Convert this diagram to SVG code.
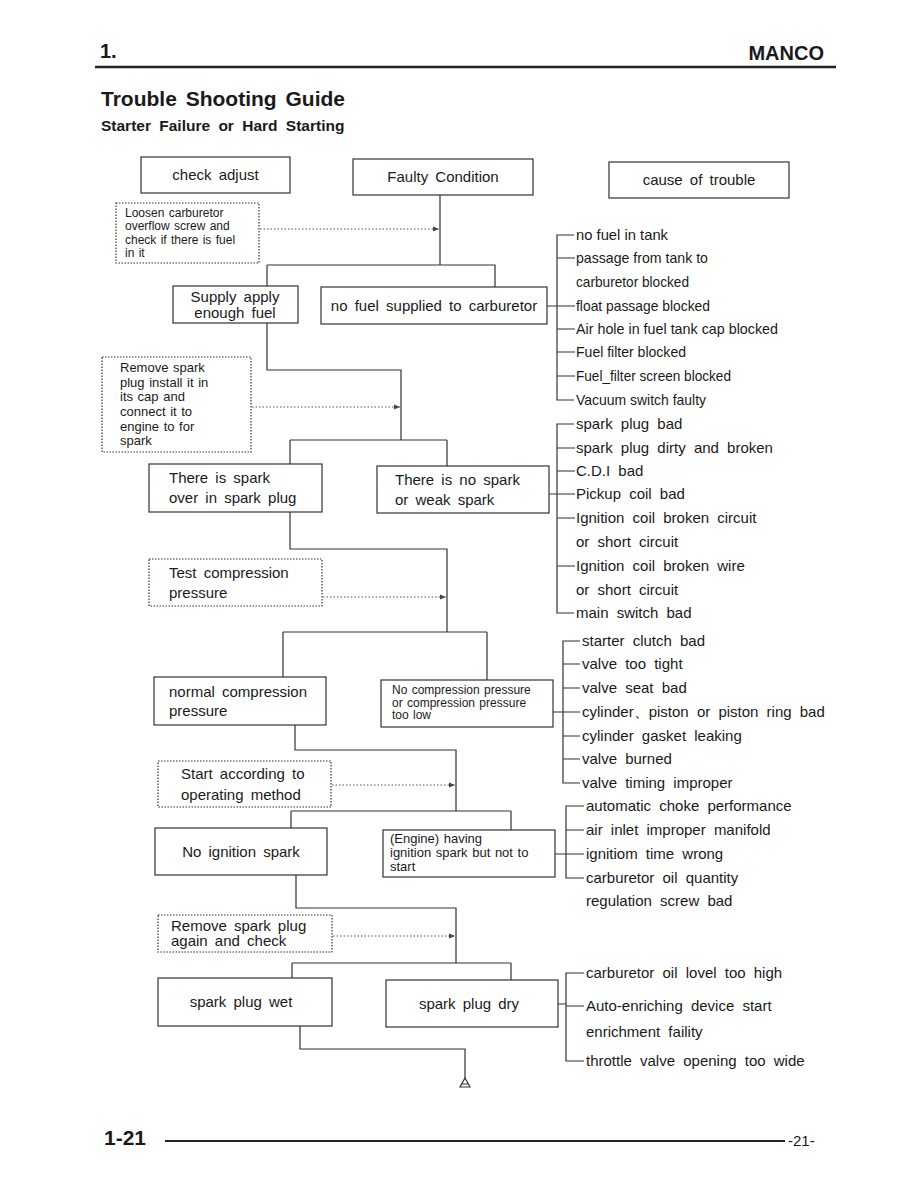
<svg xmlns="http://www.w3.org/2000/svg" width="918" height="1188" viewBox="0 0 918 1188">
<defs>
<style>
text{font-family:"Liberation Sans",Arial,sans-serif;fill:#1a1a1a}
.box{fill:#fff;stroke:#333;stroke-width:1.2}
.dbox{fill:#fff;stroke:#333;stroke-width:1.2;stroke-dasharray:1.5 1.5}
.ln{fill:none;stroke:#333;stroke-width:1.2}
.dl{fill:none;stroke:#555;stroke-width:1;stroke-dasharray:1.5 2}
.t15{font-size:15px;word-spacing:3px}
.t13{font-size:13px;word-spacing:1px}
.t12{font-size:12px;word-spacing:1px}
.c1{font-size:14.5px}
.c2{font-size:15px;word-spacing:4px}
</style>
<marker id="ar" markerWidth="8" markerHeight="8" refX="7" refY="4" orient="auto" markerUnits="userSpaceOnUse">
<path d="M1,1.5 L7,4 L1,6.5 Z" fill="#444"/>
</marker>
</defs>
<rect width="918" height="1188" fill="#fff"/>

<g id="header">
<text x="100" y="58" font-size="20" font-weight="bold">1.</text>
<text x="824" y="60" font-size="20" font-weight="bold" text-anchor="end">MANCO</text>
<line x1="95" y1="67" x2="836" y2="67" stroke="#222" stroke-width="2.5"/>
<text x="101" y="106" font-size="21" font-weight="bold" word-spacing="3">Trouble Shooting Guide</text>
<text x="101" y="131" font-size="15.5" font-weight="bold" word-spacing="4">Starter Failure or Hard Starting</text>
</g>

<g id="connectors">
<path class="ln" d="M440 195 V265 M267 265 H495 V287 M267 265 V370 H401 V440 M290 440 H447 M290 440 V464 M447 440 V466"/>
<path class="ln" d="M290 512 V549 H447 V632 M283 632 H487 M283 632 V677 M487 632 V680"/>
<path class="ln" d="M295 725 V750 H456 V811 M291 811 H511 M291 811 V828 M511 811 V830"/>
<path class="ln" d="M296 875 V908 H456 V963 M292 963 H511 M292 963 V978 M511 963 V980"/>
<path class="ln" d="M300 1026 V1049 H465 V1079"/>
<path d="M465 1078 L470 1087 L460 1087 Z M462 1084 H468" fill="none" stroke="#333" stroke-width="1.2"/>
<path class="dl" d="M260 229 H439" marker-end="url(#ar)"/>
<path class="dl" d="M252 407 H400" marker-end="url(#ar)"/>
<path class="dl" d="M323 597 H446" marker-end="url(#ar)"/>
<path class="dl" d="M332 785 H455" marker-end="url(#ar)"/>
<path class="dl" d="M333 936 H455" marker-end="url(#ar)"/>
<path class="ln" d="M547 306 H575 M574 235 H557 V400 H574 M557 258 H575 M557 329 H575 M557 352 H575 M557 376 H575"/>
<path class="ln" d="M549 494 H575 M574 424 H557 V613 H574 M557 448 H575 M557 471 H575 M557 518 H575 M557 566 H575"/>
<path class="ln" d="M553 712 H580 M580 641 H563 V783 H580 M563 664 H580 M563 688 H580 M563 736 H580 M563 759 H580"/>
<path class="ln" d="M555 854 H584 M584 806 H566 V878 H584 M566 830 H584"/>
<path class="ln" d="M558 1004 H566 M584 973 H566 V1061 H584 M566 1006 H584"/>
</g>

<g id="n-check-adjust">
<rect class="box" x="141" y="157" width="149" height="36"/>
<text class="t15" x="215.5" y="180" text-anchor="middle">check adjust</text>
</g>
<g id="n-faulty">
<rect class="box" x="353" y="159" width="180" height="36"/>
<text class="t15" x="443" y="182" text-anchor="middle">Faulty Condition</text>
</g>
<g id="n-cause">
<rect class="box" x="609" y="162" width="180" height="36"/>
<text class="t15" x="699" y="185" text-anchor="middle">cause of trouble</text>
</g>

<g id="n-loosen">
<rect class="dbox" x="116" y="203" width="143" height="60"/>
<text class="t12" x="125" y="217">Loosen carburetor</text>
<text class="t12" x="125" y="230">overflow screw and</text>
<text class="t12" x="125" y="244">check if there is fuel</text>
<text class="t12" x="125" y="257">in it</text>
</g>

<g id="n-supply">
<rect class="box" x="173" y="286" width="125" height="37"/>
<text class="t15" x="235" y="302" text-anchor="middle">Supply apply</text>
<text class="t15" x="235" y="318" text-anchor="middle">enough fuel</text>
</g>
<g id="n-nofuel">
<rect class="box" x="321" y="287" width="226" height="37"/>
<text class="t15" x="434" y="311" text-anchor="middle">no fuel supplied to carburetor</text>
</g>

<g id="n-remove-spark">
<rect class="dbox" x="102" y="357" width="149" height="95"/>
<text class="t13" x="120" y="372">Remove spark</text>
<text class="t13" x="120" y="387">plug install it in</text>
<text class="t13" x="120" y="401">its cap and</text>
<text class="t13" x="120" y="416">connect it to</text>
<text class="t13" x="120" y="431">engine to for</text>
<text class="t13" x="120" y="445">spark</text>
</g>

<g id="n-spark-yes">
<rect class="box" x="149" y="464" width="173" height="48"/>
<text class="t15" x="169" y="483">There is spark</text>
<text class="t15" x="169" y="503">over in spark plug</text>
</g>
<g id="n-spark-no">
<rect class="box" x="377" y="466" width="172" height="47"/>
<text class="t15" x="395" y="485">There is no spark</text>
<text class="t15" x="395" y="505">or weak spark</text>
</g>

<g id="n-test-comp">
<rect class="dbox" x="149" y="559" width="173" height="47"/>
<text class="t15" x="169" y="578">Test compression</text>
<text class="t15" x="169" y="598">pressure</text>
</g>

<g id="n-normal-comp">
<rect class="box" x="154" y="677" width="172" height="48"/>
<text class="t15" x="169" y="697">normal compression</text>
<text class="t15" x="169" y="716">pressure</text>
</g>
<g id="n-no-comp">
<rect class="box" x="381" y="680" width="172" height="47"/>
<text class="t12" x="392" y="694">No compression pressure</text>
<text class="t12" x="392" y="707">or compression pressure</text>
<text class="t12" x="392" y="719">too low</text>
</g>

<g id="n-start">
<rect class="dbox" x="158" y="761" width="173" height="46"/>
<text class="t15" x="181" y="779">Start according to</text>
<text class="t15" x="181" y="800">operating method</text>
</g>

<g id="n-no-ign">
<rect class="box" x="155" y="828" width="172" height="47"/>
<text class="t15" x="241" y="857" text-anchor="middle">No ignition spark</text>
</g>
<g id="n-engine">
<rect class="box" x="383" y="830" width="172" height="47"/>
<text class="t13" x="390" y="843">(Engine) having</text>
<text class="t13" x="390" y="857">ignition spark but not to</text>
<text class="t13" x="390" y="871">start</text>
</g>

<g id="n-remove-again">
<rect class="dbox" x="158" y="915" width="174" height="37"/>
<text class="t15" x="171" y="931" word-spacing="7">Remove spark plug</text>
<text class="t15" x="171" y="946">again and check</text>
</g>

<g id="n-wet">
<rect class="box" x="158" y="978" width="174" height="48"/>
<text class="t15" x="241" y="1007" text-anchor="middle">spark plug wet</text>
</g>
<g id="n-dry">
<rect class="box" x="386" y="980" width="172" height="47"/>
<text class="t15" x="469" y="1009" text-anchor="middle">spark plug dry</text>
</g>

<g id="causes-fuel">
<text class="c1" x="576" y="240" textLength="92" lengthAdjust="spacingAndGlyphs">no fuel in tank</text>
<text class="c1" x="576" y="263" textLength="132" lengthAdjust="spacingAndGlyphs">passage from tank to</text>
<text class="c1" x="576" y="287" textLength="113" lengthAdjust="spacingAndGlyphs">carburetor blocked</text>
<text class="c1" x="576" y="311" textLength="134" lengthAdjust="spacingAndGlyphs">float passage blocked</text>
<text class="c1" x="576" y="334" textLength="202" lengthAdjust="spacingAndGlyphs">Air hole in fuel tank cap blocked</text>
<text class="c1" x="576" y="357" textLength="110" lengthAdjust="spacingAndGlyphs">Fuel filter blocked</text>
<text class="c1" x="576" y="381" textLength="155" lengthAdjust="spacingAndGlyphs">Fuel_filter screen blocked</text>
<text class="c1" x="576" y="405" textLength="130" lengthAdjust="spacingAndGlyphs">Vacuum switch faulty</text>
</g>

<g id="causes-spark">
<text class="c2" x="576" y="429">spark plug bad</text>
<text class="c2" x="576" y="453">spark plug dirty and broken</text>
<text class="c2" x="576" y="476">C.D.I bad</text>
<text class="c2" x="576" y="499">Pickup coil bad</text>
<text class="c2" x="576" y="523">Ignition coil broken circuit</text>
<text class="c2" x="576" y="547">or short circuit</text>
<text class="c2" x="576" y="571">Ignition coil broken wire</text>
<text class="c2" x="576" y="595">or short circuit</text>
<text class="c2" x="576" y="618">main switch bad</text>
</g>

<g id="causes-comp">
<text class="c2" x="582" y="646">starter clutch bad</text>
<text class="c2" x="582" y="669">valve too tight</text>
<text class="c2" x="582" y="693">valve seat bad</text>
<text class="c2" x="582" y="717" word-spacing="3" font-family="'Liberation Sans','Noto Sans CJK SC',sans-serif">cylinder、piston or piston ring bad</text>
<text class="c2" x="582" y="741">cylinder gasket leaking</text>
<text class="c2" x="582" y="764">valve burned</text>
<text class="c2" x="582" y="788">valve timing improper</text>
</g>

<g id="causes-ign">
<text class="c2" x="586" y="811">automatic choke performance</text>
<text class="c2" x="586" y="835">air inlet improper manifold</text>
<text class="c2" x="586" y="859">ignitiom time wrong</text>
<text class="c2" x="586" y="883">carburetor oil quantity</text>
<text class="c2" x="586" y="906">regulation screw bad</text>
</g>

<g id="causes-dry">
<text class="c2" x="586" y="978">carburetor oil lovel too high</text>
<text class="c2" x="586" y="1011">Auto-enriching device start</text>
<text class="c2" x="586" y="1037">enrichment faility</text>
<text class="c2" x="586" y="1066">throttle valve opening too wide</text>
</g>

<g id="footer">
<text x="104" y="1145" font-size="21" font-weight="bold">1-21</text>
<line x1="165" y1="1141" x2="785" y2="1141" stroke="#222" stroke-width="2"/>
<text x="788" y="1146" font-size="15">-21-</text>
</g>
</svg>
